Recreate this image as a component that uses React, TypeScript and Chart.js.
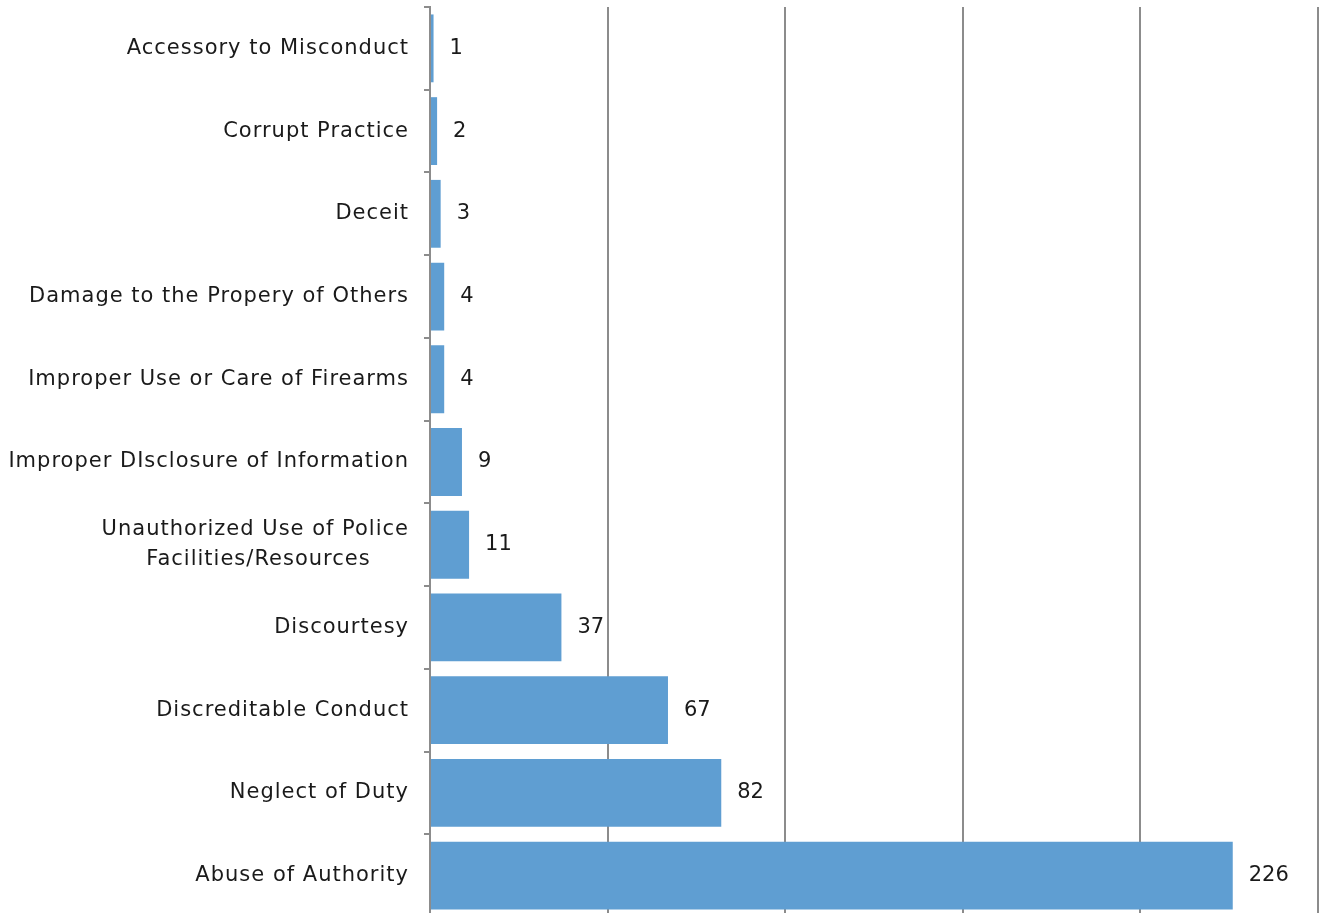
import React, { useEffect, useRef } from "react";
import { Chart, registerables } from "chart.js";

Chart.register(...registerables);

const categories: (string | string[])[] = [
  "Accessory to Misconduct",
  "Corrupt Practice",
  "Deceit",
  "Damage to the Propery of Others",
  "Improper Use or Care of Firearms",
  "Improper DIsclosure of Information",
  ["Unauthorized Use of Police", "Facilities/Resources     "],
  "Discourtesy",
  "Discreditable Conduct",
  "Neglect of Duty",
  "Abuse of Authority",
];
const counts: number[] = [1, 2, 3, 4, 4, 9, 11, 37, 67, 82, 226];
const axisMax = 250;
const axisStep = 50;

const FONT = "'DejaVu Sans', sans-serif";
const GRID = "#8c8c8c";

const letterSpacingPlugin = {
  id: "letterSpacing",
  beforeLayout(chart: any) {
    chart.ctx.letterSpacing = "1px";
  },
  beforeDraw(chart: any) {
    chart.ctx.letterSpacing = "1px";
  },
};

const valueLabels = {
  id: "valueLabels",
  afterDatasetsDraw(chart: any) {
    const ctx = chart.ctx;
    const meta = chart.getDatasetMeta(0);
    ctx.save();
    ctx.letterSpacing = "0px";
    ctx.font = `21px ${FONT}`;
    ctx.fillStyle = "#1a1a1a";
    ctx.textAlign = "left";
    ctx.textBaseline = "middle";
    meta.data.forEach((el: any, i: number) => {
      ctx.fillText(String(counts[i]), el.x + 16, el.y);
    });
    ctx.restore();
  },
};

export default function App() {
  const ref = useRef<HTMLCanvasElement | null>(null);
  useEffect(() => {
    document.body.style.margin = "0";
    document.body.style.overflow = "hidden";
    const chart = new Chart(ref.current as HTMLCanvasElement, {
      type: "bar",
      data: {
        labels: categories,
        datasets: [
          {
            data: counts,
            backgroundColor: "#5F9ED2",
            borderWidth: 0,
            barPercentage: 0.82,
            categoryPercentage: 1,
          },
        ],
      },
      options: {
        indexAxis: "y",
        animation: false,
        responsive: false,
        maintainAspectRatio: false,
        layout: { padding: { top: 7, right: 6, bottom: 0, left: 0 } },
        plugins: { legend: { display: false }, tooltip: { enabled: false } },
        scales: {
          x: {
            min: 0,
            max: axisMax,
            ticks: { display: false, stepSize: axisStep },
            grid: { color: GRID, lineWidth: 2, drawTicks: false },
            border: { display: false },
            afterFit: (s: any) => {
              s.height = 0;
              s.paddingLeft = 0;
              s.paddingRight = 0;
            },
          },
          y: {
            ticks: {
              color: "#1a1a1a",
              font: { family: FONT, size: 21, lineHeight: 1.4 },
              padding: 15,
              autoSkip: false,
            },
            grid: {
              color: GRID,
              lineWidth: 2,
              drawOnChartArea: false,
              drawTicks: true,
              tickLength: 6,
              offset: true,
            },
            border: { display: true, color: GRID, width: 2 },
            afterFit: (s: any) => {
              s.width = 430;
              s.paddingTop = 0;
              s.paddingBottom = 0;
            },
          },
        },
      },
      plugins: [letterSpacingPlugin, valueLabels],
    });
    return () => chart.destroy();
  }, []);
  return (
    <div style={{ position: "fixed", left: 0, top: 0, width: 1324, height: 913, overflow: "hidden", background: "#fff" }}>
      <canvas ref={ref} width={1324} height={917} style={{ display: "block" }} />
    </div>
  );
}
